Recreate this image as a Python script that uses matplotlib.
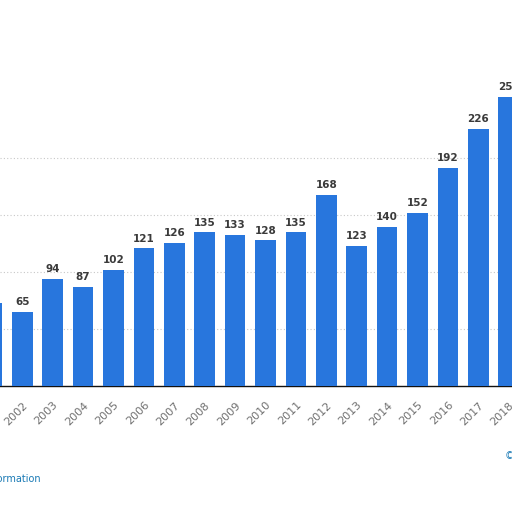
import matplotlib
matplotlib.use("Agg")
import matplotlib.pyplot as plt

years = ["2001", "2002", "2003", "2004", "2005", "2006", "2007", "2008", "2009",
         "2010", "2011", "2012", "2013", "2014", "2015", "2016", "2017", "2018"]
values = [73, 65, 94, 87, 102, 121, 126, 135, 133, 128, 135, 168, 123, 140, 152, 192, 226, 254]
grid_vals = [50, 100, 150, 200]

W = H = 512
fig = plt.figure(figsize=(5.12, 5.12), dpi=100)
fig.patch.set_facecolor("white")

base_px = 386.0
px_per_unit = 1.138
ymax = 270
top_px = base_px - ymax * px_per_unit
ax = fig.add_axes([0, 1 - base_px / H, 1, (base_px - top_px) / H])

pos = list(range(-1, len(years) - 1))  # 2002 at 0
ax.bar(pos, values, width=0.68, color="#2876dd", zorder=3)
for p, v in zip(pos, values):
    if p < 0:
        continue
    ax.text(p, v + 4, str(v), ha="center", va="bottom", fontsize=7.5,
            fontweight="bold", color="#3a3a3a", zorder=4, clip_on=False)

ax.set_yticks(grid_vals)
ax.yaxis.grid(True, color="#c8c8c8", linestyle=(0, (1, 2)), linewidth=0.8, zorder=0)
ax.tick_params(axis="y", length=0, labelleft=False)
ax.set_xticks(pos)
ax.set_xticklabels(years, rotation=45, ha="right", rotation_mode="anchor",
                   fontsize=8, color="#707070")
ax.tick_params(axis="x", length=0, pad=10)
ax.set_xlim(-0.734, 16.11)
ax.set_ylim(0, ymax)
for s in ["top", "left", "right"]:
    ax.spines[s].set_visible(False)
ax.spines["bottom"].set_color("#111111")
ax.spines["bottom"].set_linewidth(1.0)

fig.text(41 / W, 1 - 479 / H, "Additional Information", ha="right", va="center",
         fontsize=7, color="#1a7ab5")
fig.text(505 / W, 1 - 456 / H, "© Statista 2019", ha="left", va="center",
         fontsize=7, color="#1a7ab5")

fig.savefig("out.png", dpi=100, facecolor="white")
